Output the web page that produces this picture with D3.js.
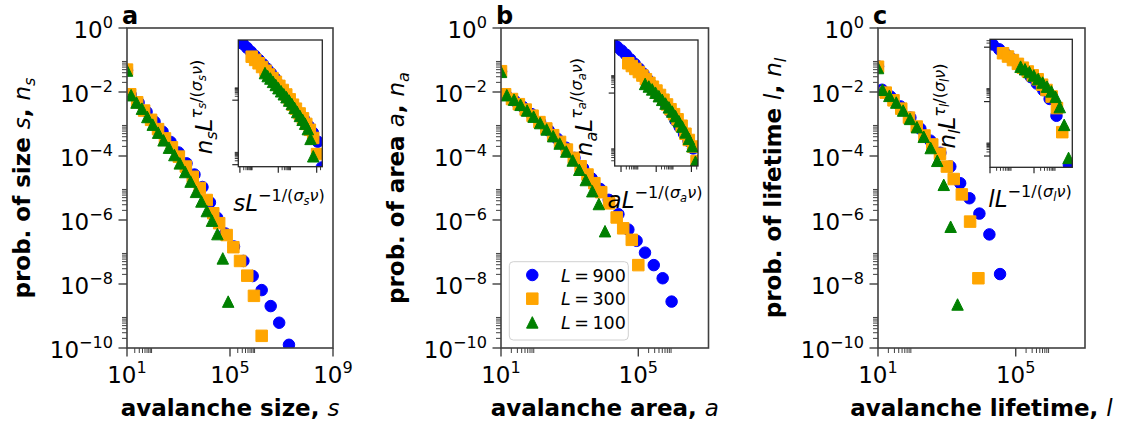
<!DOCTYPE html>
<html>
<head>
<meta charset="utf-8">
<script src="https://cdn.jsdelivr.net/npm/d3@7"></script>
<style>
  body { margin: 0; background: #fff; }
  svg { display: block; }
</style>
</head>
<body>
<svg id="fig" width="1129" height="425"></svg>
<script>
// Avalanche statistics for three system sizes L.
// Each point is [log10(quantity), log10(probability)].

const systemSizes = [900, 300, 100];

const sizeL900 = [[1.00,-1.32],[1.14,-2.08],[1.45,-2.33],[1.76,-2.62],[2.07,-2.93],[2.38,-3.24],[2.69,-3.56],[3.00,-3.89],[3.31,-4.23],[3.62,-4.58],[3.93,-4.97],[4.22,-5.45],[4.50,-5.93],[4.81,-6.42],[5.155,-6.83],[5.52,-7.28],[5.88,-7.75],[6.23,-8.19],[6.58,-8.69],[6.91,-9.21],[7.29,-9.90],[7.60,-11.9]];
const sizeL300 = [[1.00,-1.30],[1.125,-2.07],[1.395,-2.32],[1.665,-2.58],[1.935,-2.87],[2.205,-3.16],[2.475,-3.45],[2.745,-3.73],[3.015,-4.02],[3.285,-4.33],[3.555,-4.65],[3.825,-5.00],[4.095,-5.375],[4.35,-5.79],[4.58,-6.10],[4.87,-6.47],[5.13,-6.85],[5.39,-7.28],[5.67,-7.74],[5.93,-8.37],[6.23,-9.62]];
const sizeL100 = [[1.00,-1.33],[1.16,-2.10],[1.37,-2.33],[1.58,-2.52],[1.79,-2.78],[2.00,-3.02],[2.21,-3.27],[2.42,-3.51],[2.63,-3.74],[2.84,-3.97],[3.05,-4.23],[3.26,-4.50],[3.47,-4.80],[3.68,-5.12],[3.89,-5.42],[4.10,-5.72],[4.30,-6.02],[4.51,-6.44],[4.72,-7.20],[4.93,-8.55]];

const areaL900 = [[1.00,-1.36],[1.14,-2.08],[1.39,-2.27],[1.64,-2.47],[1.89,-2.69],[2.14,-2.95],[2.39,-3.20],[2.64,-3.46],[2.89,-3.74],[3.14,-4.06],[3.39,-4.38],[3.64,-4.70],[3.89,-5.03],[4.14,-5.37],[4.42,-5.82],[4.71,-6.30],[4.95,-6.65],[5.195,-7.02],[5.45,-7.41],[5.71,-7.82],[5.97,-8.55]];
const areaL300 = [[1.00,-1.35],[1.12,-2.07],[1.32,-2.22],[1.52,-2.38],[1.72,-2.55],[1.92,-2.74],[2.12,-2.94],[2.32,-3.14],[2.52,-3.35],[2.72,-3.56],[2.92,-3.80],[3.12,-4.06],[3.32,-4.32],[3.52,-4.58],[3.72,-4.85],[3.92,-5.13],[4.15,-5.48],[4.37,-5.92],[4.56,-6.26],[4.81,-6.62],[5.00,-7.41]];
const areaL100 = [[1.00,-1.37],[1.17,-2.10],[1.38,-2.24],[1.57,-2.40],[1.76,-2.58],[1.95,-2.77],[2.14,-2.97],[2.33,-3.17],[2.52,-3.38],[2.71,-3.61],[2.90,-3.86],[3.09,-4.14],[3.28,-4.43],[3.47,-4.75],[3.66,-5.10],[3.85,-5.50],[4.03,-6.35]];

const lifetimeL900 = [[1.00,-1.20],[1.12,-1.93],[1.36,-2.14],[1.65,-2.45],[1.94,-2.80],[2.23,-3.15],[2.52,-3.52],[2.81,-3.90],[3.10,-4.33],[3.386,-4.85],[3.655,-5.32],[3.945,-5.80],[4.235,-6.45],[4.545,-7.69],[5.11,-11.3]];
const lifetimeL300 = [[1.00,-1.21],[1.225,-2.02],[1.45,-2.26],[1.675,-2.52],[1.90,-2.80],[2.125,-3.08],[2.35,-3.36],[2.575,-3.64],[2.80,-3.93],[3.00,-4.33],[3.20,-4.72],[3.435,-5.20],[3.675,-6.05],[3.916,-7.82]];
const lifetimeL100 = [[1.00,-1.25],[1.13,-1.93],[1.33,-2.12],[1.53,-2.33],[1.73,-2.58],[1.93,-2.84],[2.13,-3.10],[2.33,-3.40],[2.53,-3.75],[2.72,-4.15],[2.91,-4.90],[3.11,-6.21],[3.31,-8.64]];

// Finite-size scaling exponents used for the data-collapse insets
const sizeScaling     = { invSigmaNu: 2.10, tauOverSigmaNu: 2.60 };
const areaScaling     = { invSigmaNu: 1.90, tauOverSigmaNu: 2.30 };
const lifetimeScaling = { invSigmaNu: 1.87, tauOverSigmaNu: 2.25 };

// Axis ticks (log10 exponents)
const mainYTicks = [-10, -8, -6, -4, -2, 0];
const mainXTicks = [1, 5, 9];

// ---------------------------------------------------------------------------
const FONT = '"DejaVu Sans", sans-serif';
const MINUS = "\u2212";
const THIN = "\u2009";
const colors = { 900: "#0000ff", 300: "#ffa500", 100: "#008000" };
const shapes = { 900: "circle", 300: "square", 100: "triangle" };
const MS = 11.5;
const svg = d3.select("#fig");
const defs = svg.append("defs");

const B = { w: "bold" }, I = { i: true }, N = {};
const SUP = 1, SUB = -1, SUPSUB = 2;

// Render a list of [text, style, level] segments as tspans (mathtext-like)
function rich(sel, segs, fs) {
  let cur = 0;
  const rise = { 0: 0, 1: 0.42, "-1": -0.22, 2: 0.27 };
  const scale = { 0: 1, 1: 0.7, "-1": 0.7, 2: 0.5 };
  segs.forEach(([str, st, lvl]) => {
    lvl = lvl || 0;
    const r = rise[lvl] * fs;
    sel.append("tspan")
      .attr("dy", (cur - r).toFixed(2))
      .attr("font-size", (scale[lvl] * fs).toFixed(2))
      .attr("font-weight", st.w || "normal")
      .attr("font-style", st.i ? "italic" : "normal")
      .style("white-space", "pre")
      .text(str);
    cur = r;
  });
  return sel;
}

function powSegs(e) {
  return [["10", N], [e < 0 ? MINUS + (-e) : String(e), N, SUP]];
}

function markerPath(shape, ms) {
  const h = ms / 2;
  if (shape === "circle") return d3.symbol(d3.symbolCircle, Math.PI * h * h)();
  if (shape === "square") return `M${-h},${-h}H${h}V${h}H${-h}Z`;
  return `M0,${-h}L${h},${h}L${-h},${h}Z`;
}

function drawSeries(g, pts, x, y, L) {
  g.append("g").selectAll("path").data(pts).join("path")
    .attr("d", markerPath(shapes[L], MS))
    .attr("transform", d => `translate(${x(10 ** d[0])},${y(10 ** d[1])})`)
    .attr("fill", colors[L])
    .attr("stroke", colors[L])
    .attr("stroke-width", 1);
}

// minor ticks at k*10^m (k = 2..9) for each major decade m
function minorsFor(majors, stride, lo, hi) {
  const out = [];
  const all = [majors[0] - stride, ...majors];
  all.forEach(m => { for (let k = 2; k <= 9; k++) { const v = m + Math.log10(k); if (v > lo && v < hi) out.push(v); } });
  return out;
}

let clipId = 0;
function clipRect(x0, y0, x1, y1) {
  const id = "clip" + (clipId++);
  defs.append("clipPath").attr("id", id).append("rect")
    .attr("x", x0).attr("y", y0).attr("width", x1 - x0).attr("height", y1 - y0);
  return `url(#${id})`;
}

function label(g, segs, x, y, fs, anchor, rotate) {
  const t = g.append("text")
    .attr("font-family", FONT)
    .attr("text-anchor", anchor)
    .attr("fill", "#000")
    .attr("transform", `translate(${x},${y})` + (rotate ? " rotate(-90)" : ""));
  rich(t, segs, fs);
  return t;
}

const panels = [
  {
    tag: "a", x0: 127, x1: 333, y0: 28, y1: 348, xMax: 9,
    data: { 900: sizeL900, 300: sizeL300, 100: sizeL100 }, scaling: sizeScaling,
    sym: "s", word: "size",
    inset: { x0: 238.3, x1: 322.3, y0: 40, y1: 166.7, xDom: [-5.124, 1.439], yDom: [-4.157, 5.665],
             xMaj: [-5, -2, 1], xStride: 3, yMaj: [-4, 1], yStride: 5,
             ylabX: 212, ylabY: 107, xlabX: 279, xlabY: 211 }
  },
  {
    tag: "b", x0: 501, x1: 708.5, y0: 28, y1: 348, xMax: 7.045,
    data: { 900: areaL900, 300: areaL300, 100: areaL100 }, scaling: areaScaling,
    sym: "a", word: "area",
    inset: { x0: 614.7, x1: 698, y0: 40, y1: 166, xDom: [-4.359, 0.374], yDom: [-1.985, 4.90],
             xMaj: [-4, -2, 0], xStride: 2, yMaj: [-2, 2], yStride: 4,
             ylabX: 592, ylabY: 107, xlabX: 655, xlabY: 208 }
  },
  {
    tag: "c", x0: 878, x1: 1085, y0: 28, y1: 348, xMax: 7.012,
    data: { 900: lifetimeL900, 300: lifetimeL300, 100: lifetimeL100 }, scaling: lifetimeScaling,
    sym: "l", word: "lifetime",
    inset: { x0: 990, x1: 1072.3, y0: 39.3, y1: 167.3, xDom: [-4.0, -0.26], yDom: [-4.83, 4.58],
             xMaj: [-4, -2], xStride: 2, yMaj: [-4, 0, 4], yStride: 4,
             ylabX: 955, ylabY: 106, xlabX: 1030, xlabY: 207 }
  }
];

const SPINE = "#404040";
const FS = 23;

panels.forEach(p => {
  const g = svg.append("g");
  const x = d3.scaleLog().domain([10, 10 ** p.xMax]).range([p.x0, p.x1]);
  const y = d3.scaleLog().domain([1e-10, 1]).range([p.y1, p.y0]);

  // markers
  const mg = g.append("g").attr("clip-path", clipRect(p.x0, p.y0, p.x1, p.y1));
  systemSizes.forEach(L => drawSeries(mg, p.data[L], x, y, L));

  // spines
  g.append("rect").attr("x", p.x0).attr("y", p.y0)
    .attr("width", p.x1 - p.x0).attr("height", p.y1 - p.y0)
    .attr("fill", "none").attr("stroke", SPINE).attr("stroke-width", 1.6);

  // y ticks
  minorsFor(mainYTicks, 2, -10, 0).forEach(v => g.append("line").attr("x1", p.x0).attr("x2", p.x0 - 5)
    .attr("y1", y(10 ** v)).attr("y2", y(10 ** v)).attr("stroke", SPINE).attr("stroke-width", 1));
  mainYTicks.forEach(e => {
    g.append("line").attr("x1", p.x0).attr("x2", p.x0 - 8.5)
      .attr("y1", y(10 ** e)).attr("y2", y(10 ** e)).attr("stroke", SPINE).attr("stroke-width", 1.4);
    label(g, powSegs(e), p.x0 - 14, y(10 ** e) + 9.5, FS, "end");
  });

  // x ticks
  const xMaj = mainXTicks.filter(e => e <= p.xMax + 1e-9);
  minorsFor(mainXTicks, 4, 1, p.xMax).forEach(v => g.append("line").attr("y1", p.y1).attr("y2", p.y1 + 5)
    .attr("x1", x(10 ** v)).attr("x2", x(10 ** v)).attr("stroke", SPINE).attr("stroke-width", 1));
  xMaj.forEach(e => {
    g.append("line").attr("y1", p.y1).attr("y2", p.y1 + 8.5)
      .attr("x1", x(10 ** e)).attr("x2", x(10 ** e)).attr("stroke", SPINE).attr("stroke-width", 1.4);
    label(g, powSegs(e), x(10 ** e), p.y1 + 35, FS, "middle");
  });

  // axis labels
  const cx = (p.x0 + p.x1) / 2, cy = (p.y0 + p.y1) / 2;
  label(g, [["avalanche " + p.word + ", ", B], [p.sym, I]], cx, 416, FS, "middle");
  label(g, [["prob. of " + p.word + " ", B], [p.sym, I], [", ", B], ["n", I], [p.sym, I, SUB]],
        p.x0 - 97, cy, FS, "middle", true);
  // panel tag
  g.append("text").attr("x", p.x0 - 5).attr("y", 23.5).attr("font-family", FONT)
    .attr("font-weight", "bold").attr("font-size", 24).text(p.tag);

  // inset: data collapse n L^{tau/(sigma nu)} vs q L^{-1/(sigma nu)}
  const q = p.inset;
  const ig = svg.append("g");
  ig.append("rect").attr("x", q.x0).attr("y", q.y0).attr("width", q.x1 - q.x0)
    .attr("height", q.y1 - q.y0).attr("fill", "#fff");
  const ix = d3.scaleLog().domain([10 ** q.xDom[0], 10 ** q.xDom[1]]).range([q.x0, q.x1]);
  const iy = d3.scaleLog().domain([10 ** q.yDom[0], 10 ** q.yDom[1]]).range([q.y1, q.y0]);
  const img = ig.append("g").attr("clip-path", clipRect(q.x0, q.y0, q.x1, q.y1));
  systemSizes.forEach(L => {
    const lg = Math.log10(L);
    const pts = p.data[L].slice(1).map(([u, v]) =>
      [u - p.scaling.invSigmaNu * lg, v + p.scaling.tauOverSigmaNu * lg]);
    drawSeries(img, pts, ix, iy, L);
  });
  ig.append("rect").attr("x", q.x0).attr("y", q.y0).attr("width", q.x1 - q.x0)
    .attr("height", q.y1 - q.y0).attr("fill", "none").attr("stroke", "#262626").attr("stroke-width", 1.3);
  minorsFor(q.xMaj, q.xStride, q.xDom[0], q.xDom[1]).forEach(v =>
    ig.append("line").attr("y1", q.y1).attr("y2", q.y1 + 3.5).attr("x1", ix(10 ** v)).attr("x2", ix(10 ** v))
      .attr("stroke", "#262626").attr("stroke-width", 0.9));
  q.xMaj.filter(v => v >= q.xDom[0] && v <= q.xDom[1]).forEach(v =>
    ig.append("line").attr("y1", q.y1).attr("y2", q.y1 + 6).attr("x1", ix(10 ** v)).attr("x2", ix(10 ** v))
      .attr("stroke", "#262626").attr("stroke-width", 1.2));
  minorsFor(q.yMaj, q.yStride, q.yDom[0], q.yDom[1]).forEach(v =>
    ig.append("line").attr("x1", q.x0).attr("x2", q.x0 - 3.5).attr("y1", iy(10 ** v)).attr("y2", iy(10 ** v))
      .attr("stroke", "#262626").attr("stroke-width", 0.9));
  q.yMaj.filter(v => v >= q.yDom[0] && v <= q.yDom[1]).forEach(v =>
    ig.append("line").attr("x1", q.x0).attr("x2", q.x0 - 6).attr("y1", iy(10 ** v)).attr("y2", iy(10 ** v))
      .attr("stroke", "#262626").attr("stroke-width", 1.2));

  const s = p.sym;
  label(ig, [["n", I], [s, I, SUB], ["L", I], ["\u03C4", I, SUP], [s, I, SUPSUB], ["/(", N, SUP],
             ["\u03C3", I, SUP], [s, I, SUPSUB], ["\u03BD", I, SUP], [")", N, SUP]],
        q.ylabX, q.ylabY, 23, "middle", true);
  label(ig, [[s, I], ["L", I], [MINUS + "1/(", N, SUP], ["\u03C3", I, SUP], [s, I, SUPSUB],
             ["\u03BD", I, SUP], [")", N, SUP]],
        q.xlabX, q.xlabY, 23, "middle");
});

// legend (panel b)
const leg = svg.append("g");
leg.append("rect").attr("x", 509.3).attr("y", 261.7).attr("width", 119).attr("height", 78.3)
  .attr("rx", 4).attr("fill", "#fff").attr("fill-opacity", 0.8)
  .attr("stroke", "#d0d0d0").attr("stroke-width", 1);
systemSizes.forEach((L, i) => {
  const yy = 275 + i * 23.7;
  leg.append("path").attr("d", markerPath(shapes[L], MS))
    .attr("transform", `translate(532.3,${yy})`).attr("fill", colors[L])
    .attr("stroke", colors[L]).attr("stroke-width", 1);
  label(leg, [["L", I], [THIN + "=" + THIN, N], [String(L), N]], 561, yy + 6.5, 17.5, "start");
});
</script>
</body>
</html>
